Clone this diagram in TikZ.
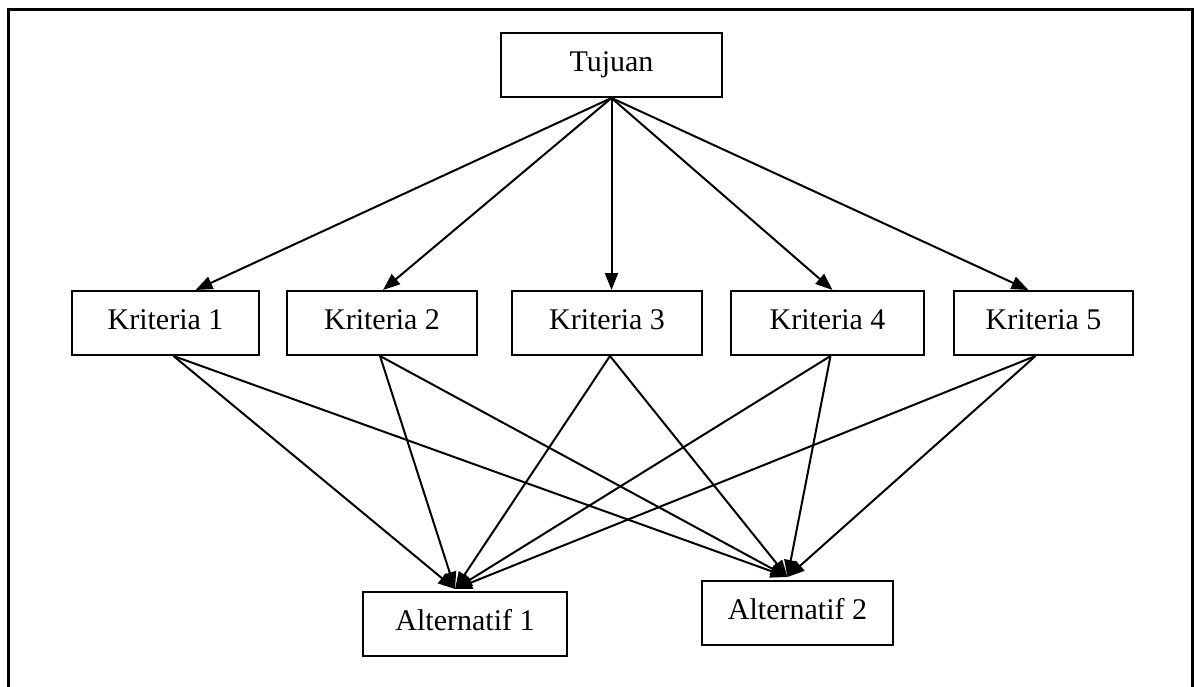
\documentclass[tikz,border=0pt]{standalone}
\usepackage{fontspec}
\setmainfont{Liberation Serif}
\usetikzlibrary{arrows.meta}
\begin{document}
\begin{tikzpicture}[x=1pt,y=-1pt,
  box/.style={draw, line width=2pt, inner sep=0pt, minimum height=64pt,
    text height=20pt, text depth=7pt,
    font=\fontsize{30}{35}\selectfont},
  link/.style={line width=2pt, -{Triangle[length=17pt,width=13pt]}}]
\useasboundingbox (0,0) rectangle (1194,687);
% open frame around the hierarchy
\draw[line width=3pt] (8,690) -- (8,10) -- (1192,10) -- (1192,690);

% goal
\node[box, minimum width=221pt] (goal) at (611.5,65) {Tujuan};

% criteria
\node[box, minimum width=187pt] (k1) at (165.5,323) {Kriteria 1};
\node[box, minimum width=190pt] (k2) at (382,323) {Kriteria 2};
\node[box, minimum width=190pt] (k3) at (607,323) {Kriteria 3};
\node[box, minimum width=193pt] (k4) at (827.5,323) {Kriteria 4};
\node[box, minimum width=179pt] (k5) at (1043.5,323) {Kriteria 5};

% alternatives
\node[box, minimum width=204pt] (a1) at (465,624) {Alternatif 1};
\node[box, minimum width=191pt] (a2) at (797.5,613) {Alternatif 2};

% goal -> criteria
\draw[link] (goal.south) -- ([xshift=30pt]k1.north);
\draw[link] (goal.south) -- ([xshift=1pt]k2.north);
\draw[link] (goal.south) -- ([xshift=4.5pt]k3.north);
\draw[link] (goal.south) -- ([xshift=5pt]k4.north);
\draw[link] (goal.south) -- ([xshift=-15pt]k5.north);

% criteria -> alternatives
\coordinate (t1) at ([xshift=-10pt,yshift=2pt]a1.north);
\coordinate (t2) at ([xshift=-10pt,yshift=3pt]a2.north);
\foreach \k/\dx in {k1/8,k2/-2,k3/3,k4/3,k5/-8}{
  \draw[link] ([xshift=\dx pt]\k.south) -- (t1);
  \draw[link] ([xshift=\dx pt]\k.south) -- (t2);
}
\end{tikzpicture}
\end{document}
